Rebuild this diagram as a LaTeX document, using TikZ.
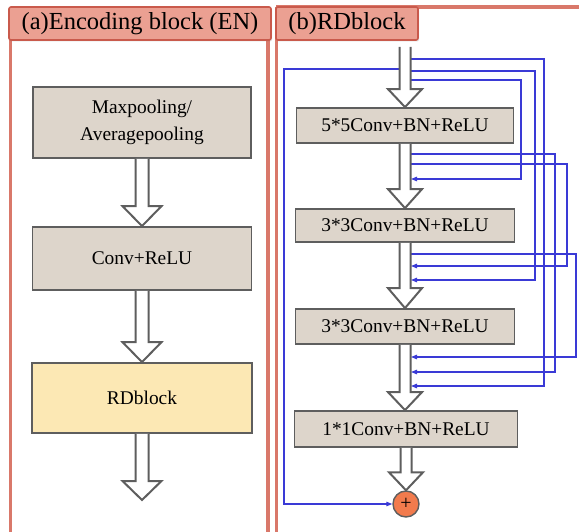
\documentclass[tikz,border=0pt]{standalone}
\usepackage{fontspec}
\setmainfont{Liberation Serif}
\usetikzlibrary{calc,arrows.meta,shadows}
\definecolor{panelred}{HTML}{D9786A}
\definecolor{titlefill}{HTML}{EBA092}
\definecolor{titledraw}{HTML}{C95A4C}
\definecolor{boxfill}{HTML}{DDD5CB}
\definecolor{boxdraw}{HTML}{5E5E5E}
\definecolor{rdfill}{HTML}{FCE8B4}
\definecolor{skipblue}{HTML}{3A3AD6}
\definecolor{plusfill}{HTML}{F27B4D}
\newcommand{\fatarrow}[5]{% start, tip, shaft half width, head half width, head length
  \draw[fatstyle] ($(#1)+(-#3,0)$) -- ($(#1|-#2)+(-#3,-#5)$) -- ($(#1|-#2)+(-#4,-#5)$) -- (#1|-#2)
    -- ($(#1|-#2)+(#4,-#5)$) -- ($(#1|-#2)+(#3,-#5)$) -- ($(#1)+(#3,0)$);}
\begin{document}
\begin{tikzpicture}[x=1pt,y=-1pt,
  panel/.style={draw=panelred,line width=3.2pt},
  titlebox/.style={draw=titledraw,fill=titlefill,line width=1.6pt,rounded corners=2pt,inner sep=0pt,
    drop shadow={opacity=0.25,shadow xshift=1pt,shadow yshift=-1.5pt},
    font=\fontsize{24.5}{28}\selectfont},
  blockbox/.style={draw=boxdraw,fill=boxfill,line width=1.8pt,inner sep=0pt,align=center,
    font=\fontsize{19.4}{27}\selectfont},
  fatstyle/.style={draw=boxdraw,fill=white,line width=2pt,line join=miter},
  skipline/.style={draw=skipblue,line width=1.1pt},
  skiparrow/.style={skipline,-{Triangle[length=6pt,width=4.5pt]}},
  plusnode/.style={circle,draw=boxdraw,fill=plusfill,line width=1.4pt,minimum size=26pt,inner sep=0pt,
    font=\fontsize{20}{20}\selectfont}
]
\useasboundingbox (0,0) rectangle (579,532);
\clip (0,0) rectangle (579,532);

% panels
\draw[panel] (10.5,20) -- (10.5,540);
\draw[panel] (268,20) -- (268,540);
\draw[panel] (276.5,7) -- (276.5,540);
\draw[panel] (276,7) -- (590,7);

% titles
\node[titlebox,minimum width=262pt,minimum height=33pt] (ta) at (140,23.5) {(a)Encoding block (EN)};
\node[titlebox,minimum width=142pt,minimum height=33pt] (tb) at (347,23.5) {(b)RDblock};

% ---- left panel ----
\node[blockbox,minimum width=218pt,minimum height=71pt] (pool) at (142,122.5) {Maxpooling/\\Averagepooling};
\node[blockbox,minimum width=219pt,minimum height=63pt] (conv) at (142,258.5) {Conv+ReLU};
\node[blockbox,fill=rdfill,minimum width=220pt,minimum height=70pt] (rd) at (142,398) {RDblock};
\coordinate (aout) at (142,500);
\fatarrow{pool.south}{conv.north}{6.5}{19.5}{20}
\fatarrow{conv.south}{rd.north}{6.5}{19.5}{20}
\fatarrow{rd.south}{aout}{6.5}{19.5}{19}

% ---- right panel ----
\node[blockbox,minimum width=217pt,minimum height=35pt] (b1) at (405,125.5) {5*5Conv+BN+ReLU};
\node[blockbox,minimum width=219pt,minimum height=33pt] (b2) at (405,225.5) {3*3Conv+BN+ReLU};
\node[blockbox,minimum width=219pt,minimum height=35pt] (b3) at (405,326.5) {3*3Conv+BN+ReLU};
\node[blockbox,minimum width=223pt,minimum height=36pt] (b4) at (406,429) {1*1Conv+BN+ReLU};
\node[plusnode] (plus) at (406,504) {+};
\coordinate (bin) at (405,47);

% skip connections (blue)
\coordinate (i1) at (410.5,59);
\coordinate (i2) at (410.5,71);
\coordinate (i3) at (410.5,80);
\coordinate (i0) at (399.5,69);
\coordinate (o1a) at (410.5,154);
\coordinate (o1b) at (410.5,164);
\coordinate (o2a) at (410.5,254);
\coordinate (t1) at (411,179);
\coordinate (t2a) at (411,266);
\coordinate (t2b) at (411,280);
\coordinate (t3a) at (411,357);
\coordinate (t3b) at (411,372);
\coordinate (t3c) at (411,386);

\draw[skiparrow] (i3) -- (521,80) -- (521,179) -- (t1);
\draw[skiparrow] (i2) -- (535,71) -- (535,280) -- (t2b);
\draw[skiparrow] (i1) -- (544,59) -- (544,386) -- (t3c);
\draw[skiparrow] (o1a) -- (555,154) -- (555,372) -- (t3b);
\draw[skiparrow] (o1b) -- (567,164) -- (567,266) -- (t2a);
\draw[skiparrow] (o2a) -- (576,254) -- (576,357) -- (t3a);
\draw[skiparrow] (i0) -- (284,69) -- (284,504) -- (plus.west);

% fat arrows
\fatarrow{bin}{b1.north}{5.5}{17}{18}
\fatarrow{b1.south}{b2.north}{5.5}{17}{19}
\fatarrow{b2.south}{b3.north}{5.5}{17}{20}
\fatarrow{b3.south}{b4.north}{5.5}{17}{18}
\fatarrow{b4.south}{plus.north}{5.5}{17}{18}
\end{tikzpicture}
\end{document}
